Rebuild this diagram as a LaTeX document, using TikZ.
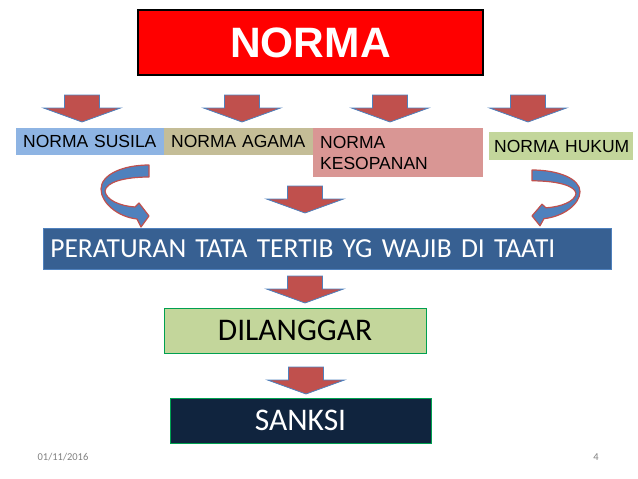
\documentclass[tikz,border=0pt]{standalone}
\usepackage{fontspec}
\setmainfont{Liberation Sans}
\newfontfamily\arialtight[WordSpace=0.4]{Liberation Sans}
\newfontfamily\calibri{Carlito}
\usepackage{tikz}

\definecolor{normared}{HTML}{FF0000}
\definecolor{arrowred}{HTML}{C0504D}
\definecolor{arrowblue}{HTML}{4F81BD}
\definecolor{susilablue}{HTML}{8EB4E3}
\definecolor{agamatan}{HTML}{C4BD97}
\definecolor{sopanpink}{HTML}{D99694}
\definecolor{hukumgreen}{HTML}{C3D69B}
\definecolor{barblue}{HTML}{376092}
\definecolor{sanksinavy}{HTML}{10243E}
\definecolor{edgegreen}{HTML}{00A050}

\tikzset{
  normabox/.style={rectangle, anchor=north west, inner xsep=7pt, inner ysep=0pt,
    align=left, font=\arialtight\fontsize{17.5}{21}\selectfont},
  bigbox/.style={rectangle, draw=edgegreen, line width=0.8pt, inner sep=0pt,
    minimum height=45pt, font=\calibri\fontsize{31.5}{36}\selectfont},
  downarrow/.pic={
    \filldraw[fill=arrowred, draw=arrowblue, line width=0.8pt]
      (-17.5,0) -- (17.5,0) -- (17.5,13) -- (38.5,13) -- (0,27)
      -- (-38.5,13) -- (-17.5,13) -- cycle;
  },
  bentarrow/.pic={
    \filldraw[fill=arrowblue, draw=arrowred, line width=1.2pt, line join=round]
      (0,0) .. controls (-27,0) and (-48,10) .. (-48,24)
      .. controls (-48,38) and (-31,52) .. (-12,54)
      -- (-8,62) -- (0,51) -- (-10,38) -- (-14,42)
      .. controls (-29,41) and (-43,35) .. (-44,26)
      .. controls (-43,17) and (-24,12) .. (0,12) -- cycle;
  }
}

\begin{document}
\begin{tikzpicture}[x=1pt,y=-1pt]
\useasboundingbox (0,0) rectangle (638,479);
% Judul
\node[rectangle, draw=black, line width=2pt, fill=normared, text=white,
  minimum width=345pt, minimum height=65pt,
  font=\bfseries\fontsize{42.5}{50}\selectfont] (norma) at (310.5,42.5) {NORMA};
% Panah ke bawah
\foreach \x in {82,242,390,528}
    \pic at (\x,95) {downarrow};
% Jenis norma
\node[normabox, fill=susilablue, text width=134pt, minimum height=27pt] (susila) at (16,128) {NORMA~SUSILA};
\node[normabox, fill=agamatan, text width=135pt, minimum height=27pt] (agama) at (164,128) {NORMA~AGAMA};
\node[normabox, fill=sopanpink, text width=156pt, minimum height=49pt] (sopan) at (313,128) {NORMA\\KESOPANAN};
\node[normabox, fill=hukumgreen, text width=134pt, inner xsep=5pt, minimum height=28pt] (hukum) at (489,132) {NORMA~HUKUM};
% Panah lengkung
\pic at (149,165) {bentarrow};
\pic[xscale=-1, yscale=0.9] at (532,170) {bentarrow};
\pic at (305,186) {downarrow};
% Peraturan
\node[rectangle, anchor=north west, fill=barblue, draw=arrowblue, line width=0.6pt,
  text=white, inner xsep=7pt, inner ysep=0pt, text width=554pt, minimum height=41pt,
  align=left, font=\calibri\fontsize{27.5}{32}\selectfont] (aturan) at (43,228)
  {PERATURAN TATA TERTIB YG WAJIB DI TAATI};
\pic at (305,276) {downarrow};
\node[bigbox, fill=hukumgreen, minimum width=262pt] (langgar) at (295,330.5) {DILANGGAR};
\pic at (306,367) {downarrow};
\node[bigbox, fill=sanksinavy, text=white, minimum width=261pt] (sanksi) at (300.5,420.5) {SANKSI};
% Kaki halaman
\node[text=gray, font=\calibri\fontsize{10.5}{12}\selectfont] (tanggal) at (63,457) {01/11/2016};
\node[text=gray, font=\calibri\fontsize{10.5}{12}\selectfont] (halaman) at (596,457) {4};
\end{tikzpicture}
\end{document}
